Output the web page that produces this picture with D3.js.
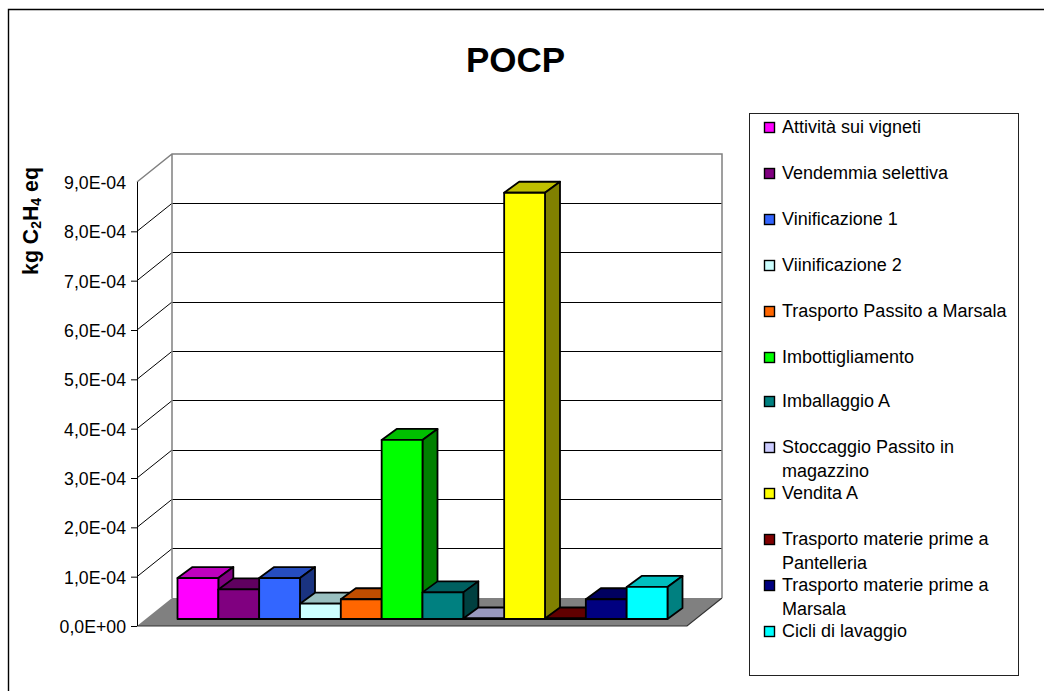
<!DOCTYPE html>
<html>
<head>
<meta charset="utf-8">
<script src="https://cdnjs.cloudflare.com/ajax/libs/d3/7.8.5/d3.min.js"></script>
<style>
html, body { margin: 0; padding: 0; background: #fff; }
svg { display: block; }
text { font-family: "Liberation Sans", Arial, sans-serif; fill: #000; }
</style>
</head>
<body>
<svg id="chart" width="1044" height="691"></svg>
<script>
// POCP contribution of each life-cycle phase, kg C2H4 eq
const phases = [
  ["Attività sui vigneti"],
  ["Vendemmia selettiva"],
  ["Vinificazione 1"],
  ["Viinificazione 2"],
  ["Trasporto Passito a Marsala"],
  ["Imbottigliamento"],
  ["Imballaggio A"],
  ["Stoccaggio Passito in", "magazzino"],
  ["Vendita A"],
  ["Trasporto materie prime a", "Pantelleria"],
  ["Trasporto materie prime a", "Marsala"],
  ["Cicli di lavaggio"]
];
const pocpValues = [8.3e-5, 6.0e-5, 8.3e-5, 3.1e-5, 4.0e-5, 3.63e-4, 5.4e-5, 1e-6, 8.64e-4, 1e-6, 4.0e-5, 6.5e-5];
const faceColors = ["#ff00ff", "#800080", "#3366ff", "#ccffff", "#ff6600", "#00ff00", "#008080", "#ccccff", "#ffff00", "#800000", "#000080", "#00ffff"];
const tickValues = [0, 1e-4, 2e-4, 3e-4, 4e-4, 5e-4, 6e-4, 7e-4, 8e-4, 9e-4];
const tickLabels = ["0,0E+00", "1,0E-04", "2,0E-04", "3,0E-04", "4,0E-04", "5,0E-04", "6,0E-04", "7,0E-04", "8,0E-04", "9,0E-04"];
const legendRows = [127, 173, 219, 265, 311, 357, 401, 447, 493, 539, 585, 631];

const svg = d3.select("#chart");

// Oblique projection: the floor and the walls recede by (depthX, depthY)
const depthX = 35, depthY = -28;
const barDepthX = 15, barDepthY = -11;
const frontLeft = 137, frontRight = 687;

const axisY = d3.scaleLinear().domain([0, 9e-4]).range([626, 182]);
const barHeight = d3.scaleLinear().domain([0, 9e-4]).range([0, 444]);
const barX = d3.scaleBand().domain(d3.range(phases.length)).range([177.5, 667.5]);
const barBase = 619;

const backPoint = (x, y) => [x + depthX, y + depthY];

// Frame around the chart area: open at the right and bottom image edges
svg.append("path")
  .attr("d", "M8.5,691V9.5H1044")
  .attr("fill", "none").attr("stroke", "#000").attr("stroke-width", 1.4);

svg.append("text").attr("x", 515.5).attr("y", 72)
  .attr("text-anchor", "middle").attr("font-size", 35).attr("font-weight", "bold").text("POCP");

// Floor
svg.append("polygon")
  .attr("points", [[frontLeft, axisY(0)], backPoint(frontLeft, axisY(0)), backPoint(frontRight, axisY(0)), [frontRight, axisY(0)]].join(" "))
  .attr("fill", "#808080");
svg.append("path")
  .attr("d", `M${frontLeft},${axisY(0)}H${frontRight}L${frontRight + depthX},${axisY(0) + depthY}`)
  .attr("fill", "none").attr("stroke", "#333").attr("stroke-width", 1.2);

// Back-wall gridlines and their return along the side wall
const walls = svg.append("g");
const innerTicks = tickValues.filter(v => v > 0 && v < 9e-4);
walls.selectAll("path.side").data(innerTicks).join("path")
  .attr("class", "side")
  .attr("d", v => {
    const [bx, by] = backPoint(frontLeft, axisY(v));
    return `M${frontLeft},${axisY(v)}L${bx},${by}`;
  })
  .attr("fill", "none").attr("stroke", "#000").attr("stroke-width", 1);
walls.selectAll("path.grid").data(innerTicks).join("path")
  .attr("class", "grid")
  .attr("shape-rendering", "crispEdges")
  .attr("d", v => {
    const [bx, by] = backPoint(frontLeft, axisY(v));
    return `M${bx},${by}H${frontRight + depthX}`;
  })
  .attr("fill", "none").attr("stroke", "#000").attr("stroke-width", 1);

// Gray wall outline
const topY = axisY(9e-4);
const [backX, backTop] = backPoint(frontLeft, topY);
const backBottom = axisY(0) + depthY;
walls.append("path")
  .attr("d", `M${frontLeft},${topY}L${backX},${backTop}H${frontRight + depthX}V${backBottom}M${backX},${backTop}V${backBottom}`)
  .attr("fill", "none").attr("stroke", "#808080").attr("stroke-width", 1.5);

// Value axis on the front edge; the top value carries a label but no tick mark
const yAxis = d3.axisLeft(axisY).tickValues(tickValues)
  .tickFormat((d, i) => tickLabels[i]).tickSize(6).tickPadding(5);
const axisG = svg.append("g").attr("transform", `translate(${frontLeft},0)`).call(yAxis);
axisG.select(".domain").attr("stroke", "#000").attr("d", `M0.5,${topY}V${axisY(0)}`);
axisG.selectAll(".tick line").attr("stroke", "#000")
  .attr("visibility", d => d === 9e-4 ? "hidden" : null);
axisG.selectAll(".tick text").attr("font-size", 17.7)
  .attr("font-family", '"Liberation Sans", Arial, sans-serif').attr("dy", "0.36em");

// Axis title with subscripts
const yTitle = svg.append("text")
  .attr("transform", "translate(38,221) rotate(-90)")
  .attr("text-anchor", "middle").attr("font-size", 21.3).attr("font-weight", "bold");
yTitle.append("tspan").text("kg C");
yTitle.append("tspan").attr("font-size", 14).attr("dy", 3).text("2");
yTitle.append("tspan").attr("dy", -3).text("H");
yTitle.append("tspan").attr("font-size", 14).attr("dy", 3).text("4");
yTitle.append("tspan").attr("dy", -3).text(" eq");

// Columns, painted left to right so that each front face covers its neighbour's side
const scaleColor = (c, k) => {
  const rgb = d3.rgb(c);
  return d3.rgb(rgb.r * k, rgb.g * k, rgb.b * k).formatHex();
};
const bars = svg.append("g").selectAll("g").data(pocpValues).join("g");
bars.each(function (value, i) {
  const g = d3.select(this);
  const x0 = barX(i), x1 = x0 + barX.bandwidth();
  const yTop = barBase - barHeight(value);
  const addPoly = (pts, fill) => g.append("polygon")
    .attr("points", pts.join(" ")).attr("fill", fill)
    .attr("stroke", "#000").attr("stroke-width", 1.8).attr("stroke-linejoin", "round");
  addPoly([[x0, yTop], [x0 + barDepthX, yTop + barDepthY], [x1 + barDepthX, yTop + barDepthY], [x1, yTop]],
    scaleColor(faceColors[i], 0.75));
  addPoly([[x1, yTop], [x1 + barDepthX, yTop + barDepthY], [x1 + barDepthX, barBase + barDepthY], [x1, barBase]],
    scaleColor(faceColors[i], 0.5));
  addPoly([[x0, yTop], [x1, yTop], [x1, barBase], [x0, barBase]], faceColors[i]);
});

// Legend
svg.append("rect").attr("x", 749.5).attr("y", 113.5).attr("width", 269).attr("height", 562)
  .attr("fill", "#fff").attr("stroke", "#222").attr("stroke-width", 1);
const entries = svg.append("g").selectAll("g").data(phases).join("g")
  .attr("transform", (d, i) => `translate(0,${legendRows[i]})`);
entries.append("rect").attr("x", 764.5).attr("y", -4.5).attr("width", 10).attr("height", 10)
  .attr("fill", (d, i) => faceColors[i]).attr("stroke", "#000").attr("stroke-width", 1.4);
entries.each(function (lines) {
  d3.select(this).selectAll("text").data(lines).join("text")
    .attr("x", 782).attr("y", (d, j) => 5.5 + j * 24.5)
    .attr("font-size", 18).text(d => d);
});
</script>
</body>
</html>
